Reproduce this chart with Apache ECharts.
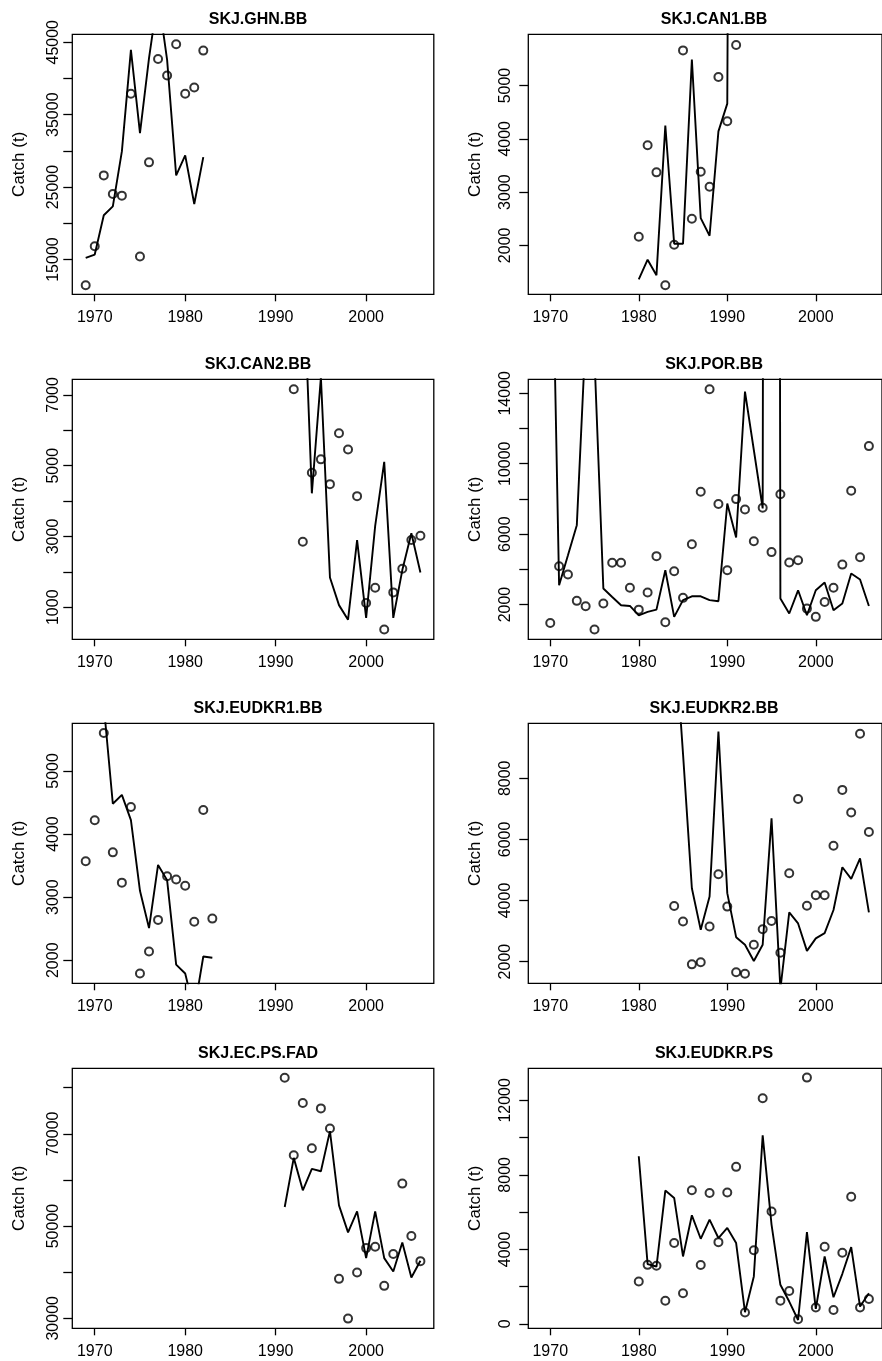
<!DOCTYPE html>
<html>
<head>
<meta charset="utf-8">
<title>SKJ catch</title>
<script src="https://cdn.jsdelivr.net/npm/echarts@6/dist/echarts.min.js"></script>
<style>
html, body { margin: 0; padding: 0; background: #fff; }
#main { width: 882px; height: 1361px; }
</style>
</head>
<body>
<div id="main"></div>
<script>
// x axis, same for every panel
var yearTicks = [1970, 1980, 1990, 2000];
var xMin = 1967.52, xMax = 2007.48;

// SKJ.GHN.BB
var ghnYears = [1969, 1970, 1971, 1972, 1973, 1974, 1975, 1976, 1977, 1978, 1979, 1980, 1981, 1982];
var ghnObs = [11460, 16840, 26620, 24050, 23820, 37880, 15420, 28420, 42700, 40410, 44720, 37880, 38750, 43850];
var ghnFit = [15230, 15690, 21110, 22350, 29930, 43940, 32460, 42800, 51500, 42570, 26620, 29380, 22670, 29150];
var ghnTicks = [15000, 20000, 25000, 30000, 35000, 40000, 45000];
var ghnLabels = [15000, 25000, 35000, 45000];

// SKJ.CAN1.BB
var can1Years = [1980, 1981, 1982, 1983, 1984, 1985, 1986, 1987, 1988, 1989, 1990, 1991];
var can1Obs = [2160, 3880, 3370, 1250, 2010, 5660, 2500, 3380, 3100, 5160, 4330, 5760];
var can1Fit = [1360, 1730, 1440, 4250, 2030, 2030, 5490, 2510, 2180, 4140, 4660, 40000];
var can1Ticks = [2000, 3000, 4000, 5000];
var can1Labels = [2000, 3000, 4000, 5000];

// SKJ.CAN2.BB
var can2Years = [1992, 1993, 1994, 1995, 1996, 1997, 1998, 1999, 2000, 2001, 2002, 2003, 2004, 2005, 2006];
var can2Obs = [7160, 2850, 4800, 5180, 4480, 5920, 5460, 4140, 1120, 1550, 370, 1420, 2090, 2900, 3020];
var can2Fit = [12000, 10900, 4220, 7500, 1840, 1060, 650, 2900, 700, 3300, 5110, 700, 2050, 3090, 1980];
var can2Ticks = [1000, 2000, 3000, 4000, 5000, 6000, 7000];
var can2Labels = [1000, 3000, 5000, 7000];

// SKJ.POR.BB
var porYears = [1970, 1971, 1972, 1973, 1974, 1975, 1976, 1977, 1978, 1979, 1980, 1981, 1982, 1983, 1984, 1985, 1986, 1987, 1988,
  1989, 1990, 1991, 1992, 1993, 1994, 1995, 1996, 1997, 1998, 1999, 2000, 2001, 2002, 2003, 2004, 2005, 2006];
var porObs = [955, 4180, 3710, 2210, 1900, 580, 2060, 4370, 4370, 2950, 1710, 2680, 4750, 990, 3890, 2380, 5430, 8410, 14230,
  7710, 3950, 7990, 7400, 5600, 7500, 4980, 8270, 4390, 4520, 1770, 1300, 2150, 2950, 4270, 8460, 4690, 11000];
var porFit = [29000, 3100, 4800, 6510, 17300, 16000, 2910, 2430, 1960, 1920, 1390, 1580, 1710, 3950, 1300, 2250, 2470, 2470, 2250,
  2190, 7740, 5810, 14100, 10780, 7460, 300000, 2340, 1490, 2810, 1390, 2810, 3250, 1680, 2060, 3760, 3420, 1920];
var porTicks = [2000, 4000, 6000, 8000, 10000, 12000, 14000];
var porLabels = [2000, 6000, 10000, 14000];

// SKJ.EUDKR1.BB
var dkr1Years = [1969, 1970, 1971, 1972, 1973, 1974, 1975, 1976, 1977, 1978, 1979, 1980, 1981, 1982, 1983];
var dkr1Obs = [3570, 4220, 5600, 3710, 3230, 4430, 1790, 2140, 2640, 3330, 3280, 3180, 2610, 4380, 2660];
var dkr1Fit = [7500, 6900, 6040, 4480, 4620, 4220, 3100, 2510, 3510, 3270, 1930, 1790, 1200, 2060, 2040];
var dkr1Ticks = [2000, 3000, 4000, 5000];
var dkr1Labels = [2000, 3000, 4000, 5000];

// SKJ.EUDKR2.BB
var dkr2Years = [1984, 1985, 1986, 1987, 1988, 1989, 1990, 1991, 1992, 1993, 1994, 1995, 1996, 1997, 1998, 1999, 2000,
  2001, 2002, 2003, 2004, 2005, 2006];
var dkr2Obs = [3820, 3310, 1910, 1980, 3150, 4860, 3800, 1650, 1600, 2550, 3060, 3330, 2290, 4890, 7320, 3830, 4170,
  4170, 5790, 7620, 6880, 9460, 6240];
var dkr2Fit = [13000, 8800, 4400, 3040, 4130, 9530, 4240, 2800, 2550, 2020, 2550, 6690, 1100, 3610, 3250, 2350, 2760,
  2930, 3690, 5090, 4710, 5380, 3610];
var dkr2Ticks = [2000, 4000, 6000, 8000];
var dkr2Labels = [2000, 4000, 6000, 8000];

// SKJ.EC.PS.FAD
var fadYears = [1991, 1992, 1993, 1994, 1995, 1996, 1997, 1998, 1999, 2000, 2001, 2002, 2003, 2004, 2005, 2006];
var fadObs = [82170, 65360, 76670, 66880, 75510, 71160, 38550, 29930, 39930, 45220, 45510, 37030, 43920, 59200, 47830, 42390];
var fadFit = [54130, 64780, 57750, 62390, 61880, 70580, 54490, 48630, 53190, 43050, 53190, 43050, 40150, 46450, 38840, 42470];
var fadTicks = [30000, 40000, 50000, 60000, 70000, 80000];
var fadLabels = [30000, 50000, 70000];

// SKJ.EUDKR.PS
var psYears = [1980, 1981, 1982, 1983, 1984, 1985, 1986, 1987, 1988, 1989, 1990, 1991, 1992, 1993, 1994, 1995, 1996,
  1997, 1998, 1999, 2000, 2001, 2002, 2003, 2004, 2005, 2006];
var psObs = [2280, 3170, 3120, 1240, 4340, 1650, 7170, 3160, 7030, 4390, 7050, 8430, 610, 3950, 12110, 6030, 1250,
  1770, 250, 13220, 880, 4140, 750, 3820, 6830, 880, 1340];
var psFit = [9000, 3210, 3080, 7160, 6760, 3620, 5830, 4570, 5600, 4610, 5150, 4340, 630, 2550, 10120, 5330, 2100,
  1200, 210, 4930, 810, 3620, 1430, 2690, 4120, 930, 1650];
var psTicks = [0, 2000, 4000, 6000, 8000, 10000, 12000];
var psLabels = [0, 4000, 8000, 12000];

var panels = [
  { name: 'SKJ.GHN.BB', years: ghnYears, obs: ghnObs, fit: ghnFit, ymin: 10200, ymax: 46100, ticks: ghnTicks, labels: ghnLabels },
  { name: 'SKJ.CAN1.BB', years: can1Years, obs: can1Obs, fit: can1Fit, ymin: 1081, ymax: 5962, ticks: can1Ticks, labels: can1Labels },
  { name: 'SKJ.CAN2.BB', years: can2Years, obs: can2Obs, fit: can2Fit, ymin: 94, ymax: 7443, ticks: can2Ticks, labels: can2Labels },
  { name: 'SKJ.POR.BB', years: porYears, obs: porObs, fit: porFit, ymin: 26, ymax: 14796, ticks: porTicks, labels: porLabels },
  { name: 'SKJ.EUDKR1.BB', years: dkr1Years, obs: dkr1Obs, fit: dkr1Fit, ymin: 1635, ymax: 5755, ticks: dkr1Ticks, labels: dkr1Labels },
  { name: 'SKJ.EUDKR2.BB', years: dkr2Years, obs: dkr2Obs, fit: dkr2Fit, ymin: 1290, ymax: 9800, ticks: dkr2Ticks, labels: dkr2Labels },
  { name: 'SKJ.EC.PS.FAD', years: fadYears, obs: fadObs, fit: fadFit, ymin: 27830, ymax: 84200, ticks: fadTicks, labels: fadLabels },
  { name: 'SKJ.EUDKR.PS', years: psYears, obs: psObs, fit: psFit, ymin: -235, ymax: 13720, ticks: psTicks, labels: psLabels }
];

// where the panels sit (right column runs a bit past the page edge, like the original)
var rowTop = [34.3, 379.3, 723.3, 1068.3];
var colLeft = [72.3, 528.3];
var boxW = 361.5, boxH = 260;
var fontFam = '"Liberation Sans", Arial, Helvetica, sans-serif';

function pairs(xs, ys) {
  var out = [];
  for (var k = 0; k < xs.length; k++) out.push([xs[k], ys[k]]);
  return out;
}
// no thousand separators
function plain(v) { return String(v); }

function buildOption() {
  var option = { backgroundColor: '#fff', animation: false, title: [], grid: [], xAxis: [], yAxis: [], series: [] };
  for (var i = 0; i < panels.length; i++) {
    var p = panels[i];
    var col = i % 2, row = Math.floor(i / 2);
    var gLeft = colLeft[col], gTop = rowTop[row];

    option.grid.push({ left: gLeft, top: gTop, width: boxW, height: boxH,
      show: true, borderColor: '#000', borderWidth: 1.3 });
    option.title.push({ text: p.name, left: gLeft + boxW / 2, top: gTop - 28, textAlign: 'center',
      textStyle: { fontFamily: fontFam, fontSize: 16, fontWeight: 'bold', color: '#000' } });
    option.xAxis.push({
      type: 'value', gridIndex: i, min: xMin, max: xMax,
      axisLine: { show: false, onZero: false }, splitLine: { show: false },
      axisTick: { show: true, length: 7, customValues: yearTicks, lineStyle: { color: '#000', width: 1.3 } },
      axisLabel: { customValues: yearTicks, margin: 15, color: '#000', fontSize: 16, fontFamily: fontFam, formatter: plain }
    });
    option.yAxis.push({
      type: 'value', gridIndex: i, min: p.ymin, max: p.ymax,
      name: 'Catch (t)', nameLocation: 'middle', nameGap: 44,
      nameTextStyle: { color: '#000', fontSize: 17, fontFamily: fontFam },
      axisLine: { show: false, onZero: false }, splitLine: { show: false },
      axisTick: { show: true, length: 9, customValues: p.ticks, lineStyle: { color: '#000', width: 1.3 } },
      axisLabel: { customValues: p.labels, rotate: 90, margin: col == 0 ? 11 : 15, color: '#000', fontSize: 16,
        fontFamily: fontFam, formatter: plain }
    });
    // fitted catch
    option.series.push({ type: 'line', xAxisIndex: i, yAxisIndex: i, data: pairs(p.years, p.fit),
      showSymbol: false, clip: true, lineStyle: { color: '#000', width: 1.9 }, z: 2 });
    // observed catch
    option.series.push({ type: 'scatter', xAxisIndex: i, yAxisIndex: i, data: pairs(p.years, p.obs),
      symbol: 'circle', symbolSize: 8, clip: true,
      itemStyle: { color: 'transparent', borderColor: '#000', borderWidth: 2 }, z: 3 });
  }
  return option;
}

var chart = echarts.init(document.getElementById('main'));
chart.setOption(buildOption());
</script>
</body>
</html>
